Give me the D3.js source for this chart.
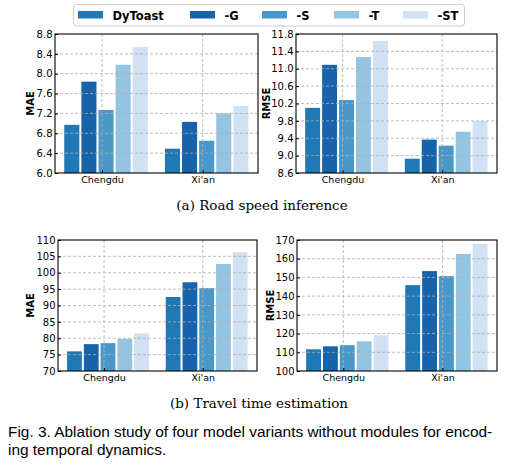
<!DOCTYPE html>
<html><head><meta charset="utf-8">
<script src="https://cdn.jsdelivr.net/npm/d3@7"></script>
<style>
html,body{margin:0;padding:0;background:#fff;}
svg{display:block;}
</style>
</head><body>
<script>
const categories = ["Chengdu", "Xi'an"];
const variants = ["DyToast", "-G", "-S", "-T", "-ST"];
const colors = ["#2079b5", "#1764ab", "#4a98c9", "#94c4df", "#cfe1f2"];

// Road speed inference
const speedMAE  = [[6.97, 7.84, 7.27, 8.18, 8.54], [6.49, 7.03, 6.65, 7.20, 7.35]];
const speedRMSE = [[10.10, 11.09, 10.28, 11.27, 11.64], [8.93, 9.37, 9.23, 9.55, 9.80]];
// Travel time estimation
const travelMAE  = [[76.0, 78.2, 78.5, 79.8, 81.5], [92.6, 97.1, 95.3, 102.7, 106.3]];
const travelRMSE = [[111.6, 113.2, 113.8, 115.9, 119.1], [145.9, 153.4, 150.7, 162.5, 167.9]];

const speedMAETicks = [6.0, 6.4, 6.8, 7.2, 7.6, 8.0, 8.4, 8.8];
const speedRMSETicks = [8.6, 9.0, 9.4, 9.8, 10.2, 10.6, 11.0, 11.4, 11.8];
const travelMAETicks = [70, 75, 80, 85, 90, 95, 100, 105, 110];
const travelRMSETicks = [100, 110, 120, 130, 140, 150, 160, 170];

const W = 532, H = 475;
const svg = d3.select("body").append("svg").attr("width", W).attr("height", H);

const panels = [
  {data: speedMAE, ticks: speedMAETicks, fmt: d3.format(".1f"), label: "MAE", x: 55, y: 34, w: 203, h: 139, lx: 30.5},
  {data: speedRMSE, ticks: speedRMSETicks, fmt: d3.format(".1f"), label: "RMSE", x: 296, y: 34, w: 201, h: 139, lx: 266},
  {data: travelMAE, ticks: travelMAETicks, fmt: d3.format("d"), label: "MAE", x: 58, y: 240, w: 199, h: 131, lx: 30.5},
  {data: travelRMSE, ticks: travelRMSETicks, fmt: d3.format("d"), label: "RMSE", x: 297, y: 240, w: 200, h: 131, lx: 270}
];

const barW = 0.15, step = 0.17, off0 = -0.30;

panels.forEach(p => {
  const g = svg.append("g").attr("transform", `translate(${p.x},${p.y})`);
  const x = d3.scaleLinear().domain([-0.467, 1.55]).range([0, p.w]);
  const y = d3.scaleLinear().domain([p.ticks[0], p.ticks[p.ticks.length - 1]]).range([p.h, 0]);

  // bars
  p.data.forEach((vals, ci) => {
    vals.forEach((v, vi) => {
      const x0 = ci + off0 + vi * step - barW / 2;
      g.append("rect")
        .attr("x", x(x0))
        .attr("width", x(x0 + barW) - x(x0))
        .attr("y", y(v))
        .attr("height", y(p.ticks[0]) - y(v))
        .attr("fill", colors[vi]);
    });
  });

  // grid (on top of bars)
  const grid = g.append("g").attr("stroke", "#b0b0b0").attr("stroke-dasharray", "3,2").attr("stroke-width", 0.9).attr("opacity", 0.9);
  p.ticks.slice(1, -1).forEach(t => {
    grid.append("line").attr("x1", 0).attr("x2", p.w).attr("y1", y(t)).attr("y2", y(t));
  });
  categories.forEach((c, i) => {
    grid.append("line").attr("x1", x(i)).attr("x2", x(i)).attr("y1", 0).attr("y2", p.h);
  });

  // axes
  const yAxis = d3.axisLeft(y).tickValues(p.ticks).tickFormat(p.fmt).tickSizeInner(-3).tickSizeOuter(0).tickPadding(2.5);
  const ya = g.append("g").call(yAxis);
  ya.select(".domain").remove();
  ya.selectAll("text").attr("font-family", "DejaVu Sans").attr("font-size", 10).attr("fill", "#000");

  const xAxis = d3.axisBottom(x).tickValues([0, 1]).tickFormat((d, i) => categories[i]).tickSizeInner(-3).tickSizeOuter(0).tickPadding(3);
  const xa = g.append("g").attr("transform", `translate(0,${p.h})`).call(xAxis);
  xa.select(".domain").remove();
  xa.selectAll("text").attr("font-family", "DejaVu Sans").attr("font-size", 9.5).attr("fill", "#000");

  g.append("rect").attr("x", 0).attr("y", 0).attr("width", p.w).attr("height", p.h)
    .attr("fill", "none").attr("stroke", "#000").attr("stroke-width", 1.1);

  svg.append("text")
    .attr("transform", `translate(${p.lx},${p.y + p.h / 2}) rotate(-90)`)
    .attr("text-anchor", "middle").attr("dominant-baseline", "central")
    .attr("font-family", "DejaVu Sans").attr("font-weight", "bold").attr("font-size", 10)
    .text(p.label);
});

// legend
const leg = svg.append("g");
leg.append("rect").attr("x", 73.5).attr("y", 4.5).attr("width", 391).attr("height", 21.5)
  .attr("rx", 3).attr("fill", "#fff").attr("stroke", "#cccccc").attr("stroke-width", 1);
const legX = [78, 190, 262, 334, 403];
variants.forEach((v, i) => {
  leg.append("rect").attr("x", legX[i]).attr("y", 11).attr("width", 25).attr("height", 7.5).attr("fill", colors[i]);
  leg.append("text").attr("x", legX[i] + 34.5).attr("y", 19.5)
    .attr("font-family", "DejaVu Sans").attr("font-weight", "bold").attr("font-size", 11.5)
    .text(v);
});

// captions
svg.append("text").attr("x", 262).attr("y", 210).attr("text-anchor", "middle")
  .attr("font-family", "DejaVu Serif").attr("font-size", 13.5).text("(a) Road speed inference");
svg.append("text").attr("x", 259).attr("y", 407.5).attr("text-anchor", "middle")
  .attr("font-family", "DejaVu Serif").attr("font-size", 13.5).text("(b) Travel time estimation");

svg.append("text").attr("x", 8).attr("y", 437)
  .attr("font-family", "Liberation Sans").attr("font-size", 15.4)
  .text("Fig. 3. Ablation study of four model variants without modules for encod-");
svg.append("text").attr("x", 8).attr("y", 455)
  .attr("font-family", "Liberation Sans").attr("font-size", 15.4)
  .text("ing temporal dynamics.");
</script>
</body></html>
